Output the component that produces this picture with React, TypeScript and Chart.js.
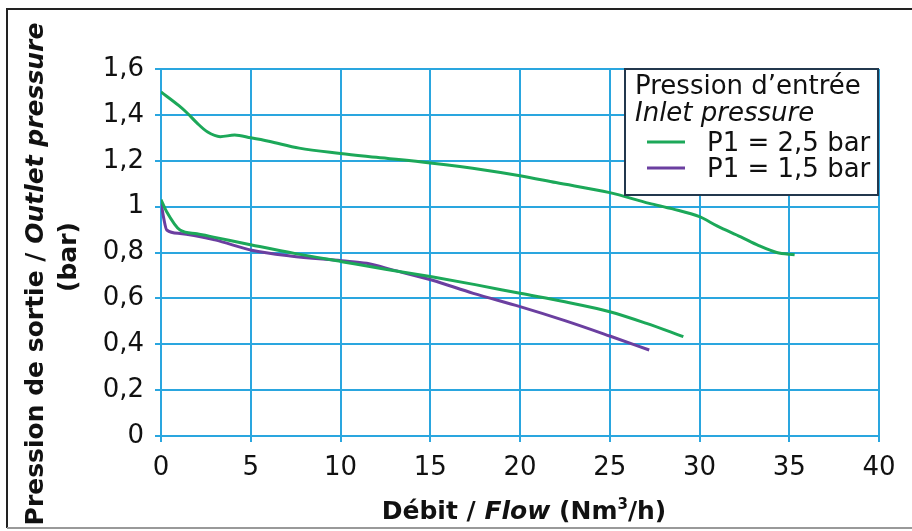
import React, { useEffect, useRef } from 'react';
import { Chart, registerables } from 'chart.js';

Chart.register(...registerables);

// ---- Data ----
const FLOW_P25_HIGH = [0, 1, 1.5, 2, 2.6, 3.3, 4.1, 5, 6, 7.7, 10, 12, 15, 18, 20, 22, 25, 27.2, 28.5, 30, 31, 32.3, 33.3, 34.3, 35.3];
const PRES_P25_HIGH = [1.5, 1.44, 1.405, 1.365, 1.325, 1.305, 1.312, 1.3, 1.285, 1.255, 1.232, 1.215, 1.19, 1.16, 1.135, 1.105, 1.061, 1.014, 0.99, 0.956, 0.915, 0.868, 0.83, 0.8, 0.79];

const FLOW_P25_LOW = [0, 0.3, 1.06, 2, 3, 5.05, 7.5, 10.07, 12.5, 15.08, 17.5, 20, 22.5, 25, 27.05, 29.1];
const PRES_P25_LOW = [1.03, 0.98, 0.898, 0.882, 0.866, 0.833, 0.795, 0.76, 0.727, 0.694, 0.66, 0.622, 0.585, 0.542, 0.491, 0.433];

const FLOW_P15 = [0, 0.15, 0.32, 1.06, 3, 5.05, 7.2, 10.07, 11.46, 13, 15.08, 17.4, 20, 22.5, 25, 27.2];
const PRES_P15 = [1.02, 0.95, 0.898, 0.883, 0.855, 0.81, 0.785, 0.764, 0.753, 0.722, 0.68, 0.622, 0.564, 0.503, 0.436, 0.375];

const Y_TICK_LABELS = ['0', '0,2', '0,4', '0,6', '0,8', '1', '1,2', '1,4', '1,6'];
const X_TICK_LABELS = ['0', '5', '10', '15', '20', '25', '30', '35', '40'];
const LEGEND_TITLE = ['Pression d\u2019entrée', 'Inlet pressure'];
const SERIES_NAMES = ['P1 = 2,5 bar', 'P1 = 1,5 bar'];

const GREEN = '#1ca859';
const PURPLE = '#6b3fa0';
const GRID = '#2aa6df';
const FONT = "'DejaVu Sans', sans-serif";

type Seg = { text: string; font: string; dy?: number };

function drawSegs(ctx: CanvasRenderingContext2D, segs: Seg[], cx: number, baseline: number) {
  let total = 0;
  const widths = segs.map((s) => {
    ctx.font = s.font;
    const w = ctx.measureText(s.text).width;
    total += w;
    return w;
  });
  let x = cx - total / 2;
  ctx.textAlign = 'left';
  ctx.textBaseline = 'alphabetic';
  segs.forEach((s, i) => {
    ctx.font = s.font;
    ctx.fillText(s.text, x, baseline + (s.dy || 0));
    x += widths[i];
  });
}

const decorPlugin = {
  id: 'decor',
  beforeDraw(chart: any) {
    const ctx = chart.ctx as CanvasRenderingContext2D;
    ctx.save();
    ctx.fillStyle = '#ffffff';
    ctx.fillRect(0, 0, chart.width, chart.height);
    ctx.restore();
  },
  afterDraw(chart: any) {
    const ctx = chart.ctx as CanvasRenderingContext2D;
    ctx.save();
    // outer frame
    ctx.strokeStyle = '#222';
    ctx.lineWidth = 2;
    ctx.beginPath();
    ctx.moveTo(920, 9);
    ctx.lineTo(7, 9);
    ctx.lineTo(7, 528);
    ctx.stroke();
    ctx.strokeStyle = '#999';
    ctx.beginPath();
    ctx.moveTo(7, 528);
    ctx.lineTo(920, 528);
    ctx.stroke();

    // legend box
    const lx = 625, ly = 69, lw = 253, lh = 126;
    ctx.fillStyle = '#fff';
    ctx.fillRect(lx, ly, lw, lh);
    ctx.strokeStyle = '#23384d';
    ctx.lineWidth = 2;
    ctx.strokeRect(lx, ly, lw, lh);
    ctx.fillStyle = '#111';
    ctx.textAlign = 'left';
    ctx.textBaseline = 'alphabetic';
    ctx.font = `26px ${FONT}`;
    ctx.fillText(LEGEND_TITLE[0], 635, 94);
    ctx.font = `italic 26px ${FONT}`;
    ctx.fillText(LEGEND_TITLE[1], 635, 121);
    const colors = [GREEN, PURPLE];
    const bases = [151, 177];
    SERIES_NAMES.forEach((name, i) => {
      ctx.strokeStyle = colors[i];
      ctx.lineWidth = 3;
      ctx.beginPath();
      ctx.moveTo(647, bases[i] - 9);
      ctx.lineTo(685, bases[i] - 9);
      ctx.stroke();
      ctx.fillStyle = '#111';
      ctx.font = `26px ${FONT}`;
      ctx.fillText(name, 707, bases[i]);
    });

    // y title
    ctx.fillStyle = '#111';
    ctx.save();
    ctx.translate(43, 274);
    ctx.rotate(-Math.PI / 2);
    drawSegs(ctx, [
      { text: 'Pression de sortie / ', font: `bold 25px ${FONT}` },
      { text: 'Outlet pressure', font: `italic bold 25px ${FONT}` },
    ], 0, 0);
    ctx.restore();
    ctx.save();
    ctx.translate(76, 257);
    ctx.rotate(-Math.PI / 2);
    drawSegs(ctx, [{ text: '(bar)', font: `bold 25px ${FONT}` }], 0, 0);
    ctx.restore();

    // x title
    drawSegs(ctx, [
      { text: 'Débit / ', font: `bold 25px ${FONT}` },
      { text: 'Flow', font: `italic bold 25px ${FONT}` },
      { text: ' (Nm', font: `bold 25px ${FONT}` },
      { text: '3', font: `bold 15px ${FONT}`, dy: -10 },
      { text: '/h)', font: `bold 25px ${FONT}` },
    ], 524, 519);
    ctx.restore();
  },
};

function toPoints(xs: number[], ys: number[]) {
  return xs.map((x, i) => ({ x, y: ys[i] }));
}

export default function App() {
  const ref = useRef<HTMLCanvasElement | null>(null);
  useEffect(() => {
    if (!ref.current) return;
    const lineDs = (label: string, data: any, color: string) => ({
      label,
      data,
      borderColor: color,
      backgroundColor: color,
      borderWidth: 3,
      pointRadius: 0,
      fill: false,
      cubicInterpolationMode: 'monotone' as const,
    });
    const chart = new Chart(ref.current, {
      type: 'line',
      data: {
        datasets: [
          lineDs(SERIES_NAMES[0], toPoints(FLOW_P25_LOW, PRES_P25_LOW), GREEN),
          lineDs(SERIES_NAMES[0], toPoints(FLOW_P25_HIGH, PRES_P25_HIGH), GREEN),
          lineDs(SERIES_NAMES[1], toPoints(FLOW_P15, PRES_P15), PURPLE),
        ],
      },
      options: {
        animation: false,
        responsive: false,
        devicePixelRatio: 1,
        layout: { padding: { left: 0, top: 69, right: 33, bottom: 0 } },
        plugins: { legend: { display: false }, tooltip: { enabled: false }, title: { display: false } },
        scales: {
          x: {
            type: 'linear',
            min: 0,
            max: 40,
            ticks: {
              stepSize: 5,
              color: '#111',
              font: { family: FONT, size: 26 },
              padding: 11,
              maxRotation: 0,
              callback: (_v: any, i: number) => X_TICK_LABELS[i],
            },
            grid: { color: GRID, lineWidth: 2, tickLength: 6, drawTicks: true },
            border: { color: GRID, width: 2 },
            afterFit: (s: any) => { s.height = 95; },
          },
          y: {
            type: 'linear',
            min: 0,
            max: 1.6,
            ticks: {
              stepSize: 0.2,
              color: '#111',
              font: { family: FONT, size: 26 },
              padding: 11,
              callback: (_v: any, i: number) => Y_TICK_LABELS[i],
            },
            grid: { color: GRID, lineWidth: 2, tickLength: 6, drawTicks: true },
            border: { color: GRID, width: 2 },
            afterFit: (s: any) => { s.width = 161; },
          },
        },
      },
      plugins: [decorPlugin],
    });
    return () => chart.destroy();
  }, []);
  return (
    <div style={{ position: 'fixed', left: 0, top: 0, width: 912, height: 531, background: '#fff' }}>
      <canvas ref={ref} width={912} height={531} style={{ width: 912, height: 531, display: 'block' }} />
    </div>
  );
}
